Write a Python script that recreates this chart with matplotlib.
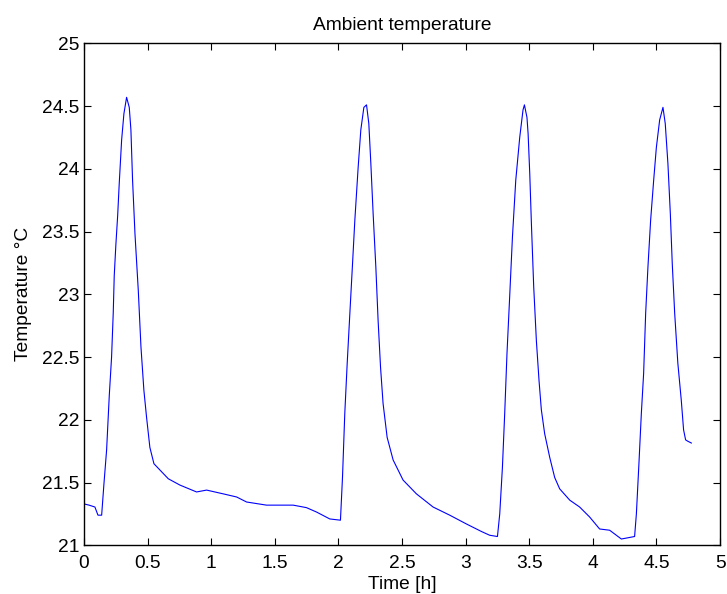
import matplotlib
matplotlib.use('Agg')
import matplotlib.pyplot as plt

plt.rcParams['font.family'] = ['Liberation Sans', 'DejaVu Sans']

# time [h] and ambient temperature [°C]
time_h = [0.0, 0.04, 0.086, 0.11, 0.139, 0.157, 0.178, 0.199, 0.217, 0.23,
          0.238, 0.251, 0.265, 0.277, 0.296, 0.314, 0.335, 0.356, 0.369, 0.382,
          0.401, 0.427, 0.448, 0.471, 0.492, 0.518, 0.55, 0.597, 0.663, 0.754,
          0.885, 0.964, 1.094, 1.2, 1.278, 1.435, 1.644, 1.697, 1.749, 1.828,
          1.932, 2.016, 2.032, 2.05, 2.069, 2.09, 2.111, 2.129, 2.155, 2.176,
          2.2, 2.221, 2.239, 2.255, 2.273, 2.294, 2.312, 2.331, 2.351, 2.383,
          2.43, 2.508, 2.613, 2.744, 2.875, 3.006, 3.124, 3.189, 3.25, 3.268,
          3.289, 3.307, 3.325, 3.346, 3.368, 3.394, 3.425, 3.451, 3.462, 3.482,
          3.491, 3.504, 3.517, 3.535, 3.556, 3.577, 3.595, 3.621, 3.661, 3.7,
          3.739, 3.818, 3.896, 3.975, 4.053, 4.132, 4.224, 4.328, 4.342, 4.362,
          4.381, 4.399, 4.415, 4.433, 4.454, 4.478, 4.499, 4.525, 4.551, 4.569,
          4.59, 4.609, 4.624, 4.643, 4.668, 4.695, 4.713, 4.729, 4.745, 4.774]
temp_c = [21.33, 21.32, 21.305, 21.24, 21.24, 21.49, 21.76, 22.195, 22.5, 22.85,
          23.15, 23.4, 23.63, 23.88, 24.23, 24.44, 24.57, 24.49, 24.31, 23.91,
          23.48, 23.03, 22.58, 22.235, 22.02, 21.78, 21.65, 21.6, 21.53, 21.48,
          21.425, 21.44, 21.41, 21.385, 21.345, 21.32, 21.32, 21.31, 21.3, 21.265,
          21.21, 21.2, 21.54, 22.05, 22.45, 22.85, 23.245, 23.59, 24.01, 24.31,
          24.49, 24.51, 24.36, 24.04, 23.64, 23.22, 22.79, 22.42, 22.13, 21.86,
          21.68, 21.52, 21.41, 21.305, 21.24, 21.17, 21.11, 21.08, 21.07, 21.25,
          21.62, 22.05, 22.53, 22.98, 23.46, 23.91, 24.25, 24.47, 24.51, 24.41,
          24.28, 23.96, 23.56, 23.06, 22.63, 22.31, 22.08, 21.89, 21.70, 21.54,
          21.45, 21.36, 21.305, 21.225, 21.13, 21.12, 21.05, 21.07, 21.25, 21.65,
          22.05, 22.37, 22.85, 23.22, 23.59, 23.91, 24.17, 24.39, 24.49, 24.36,
          24.04, 23.64, 23.245, 22.85, 22.45, 22.155, 21.92, 21.84, 21.83, 21.815]

x_ticks = [0, 0.5, 1, 1.5, 2, 2.5, 3, 3.5, 4, 4.5, 5]
x_labels = ['0', '0.5', '1', '1.5', '2', '2.5', '3', '3.5', '4', '4.5', '5']
y_ticks = [21, 21.5, 22, 22.5, 23, 23.5, 24, 24.5, 25]
y_labels = ['21', '21.5', '22', '22.5', '23', '23.5', '24', '24.5', '25']

fig = plt.figure(figsize=(7.27, 5.94), dpi=100)
ax = fig.add_axes([0.1155, 0.082, 0.875, 0.845])
ax.plot(time_h, temp_c, color='#0000ff', linewidth=0.8)

ax.set_xlim(0, 5)
ax.set_ylim(21, 25)
ax.set_xticks(x_ticks)
ax.set_xticklabels(x_labels)
ax.set_yticks(y_ticks)
ax.set_yticklabels(y_labels)
ax.tick_params(direction='in', length=5, width=0.8, labelsize=13.8,
               top=True, right=True)
ax.tick_params(axis='x', pad=7)
ax.tick_params(axis='y', pad=3.5)
for s in ax.spines.values():
    s.set_linewidth(1.0)

ax.set_title('Ambient temperature', fontsize=13.8, pad=9.5)
ax.set_xlabel('Time [h]', fontsize=13.8, labelpad=3)
ax.set_ylabel('Temperature °C', fontsize=13.8, labelpad=7)

fig.savefig('out.png', dpi=100)
